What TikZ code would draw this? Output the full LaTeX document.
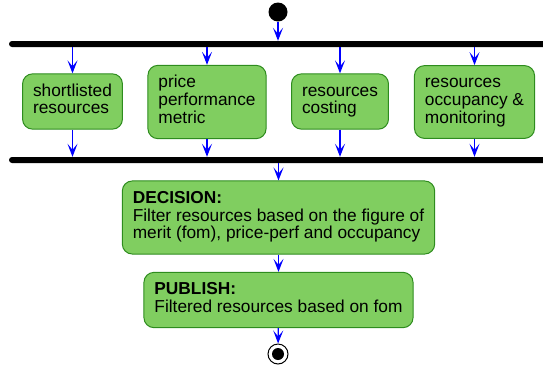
\documentclass[tikz,border=0pt]{standalone}
\usepackage{fontspec}
\setmainfont{Liberation Sans}
\usetikzlibrary{arrows.meta}
\definecolor{actgreen}{RGB}{128,206,96}
\definecolor{actborder}{RGB}{46,140,30}
\begin{document}
\begin{tikzpicture}[x=1pt,y=-1pt]
        \tikzstyle{action}=[rectangle, rounded corners=10pt, fill=actgreen, draw=actborder, line width=1pt, inner xsep=10.5pt, inner ysep=10pt, font=\fontsize{17.3}{17.5}\selectfont, text=black]
        \tikzstyle{bar}=[rectangle, fill=black, inner sep=0pt, minimum height=6pt, minimum width=540pt, rounded corners=3pt]
        \tikzstyle{flow}=[blue, line width=1.3pt, -{Stealth[length=13pt,width=10pt,inset=6pt]}]
        \useasboundingbox (0,0) rectangle (543,368);

        \node[circle, fill=black, minimum size=19pt, inner sep=0pt] (start) at (278,12) {};
        \node[bar] (fork) at (279,44)  {};
        \node[bar] (join) at (279,160) {};

        \node[action] (short) at (72.5,101.5) {\begin{tabular}{@{}l@{}} shortlisted \\ resources \end{tabular}};
        \node[action] (price) at (207,102)    {\begin{tabular}{@{}l@{}} price \\ performance \\ metric \end{tabular}};
        \node[action] (cost)  at (340,101.5)  {\begin{tabular}{@{}l@{}} resources \\ costing \end{tabular}};
        \node[action] (occup) at (474.5,102)  {\begin{tabular}{@{}l@{}} resources \\ occupancy \& \\ monitoring \end{tabular}};

        \node[action] (decide)  at (278.5,217.5) {\begin{tabular}{@{}l@{}} \textbf{DECISION:} \\ Filter resources based on the figure of \\ merit (fom), price-perf and occupancy \end{tabular}};
        \node[action] (publish) at (278.5,300)   {\begin{tabular}{@{}l@{}} \textbf{PUBLISH:} \\ Filtered resources based on fom \end{tabular}};

        \node[circle, draw=black, line width=1pt, fill=white, minimum size=20pt, inner sep=0pt] (stop) at (278,354) {};
        \node[circle, fill=black, minimum size=12pt, inner sep=0pt] (stopdot) at (278,354) {};

        \draw[flow] (start) -- (start |- fork.north);
        \foreach \n in {short,price,cost,occup} {
            \draw[flow] (\n |- fork.south) -- (\n);
            \draw[flow] (\n) -- (\n |- join.north);
        }
        \draw[flow] (decide |- join.south) -- (decide);
        \draw[flow] (decide) -- (publish);
        \draw[flow] (publish) -- (stop);
    \end{tikzpicture}
\end{document}
